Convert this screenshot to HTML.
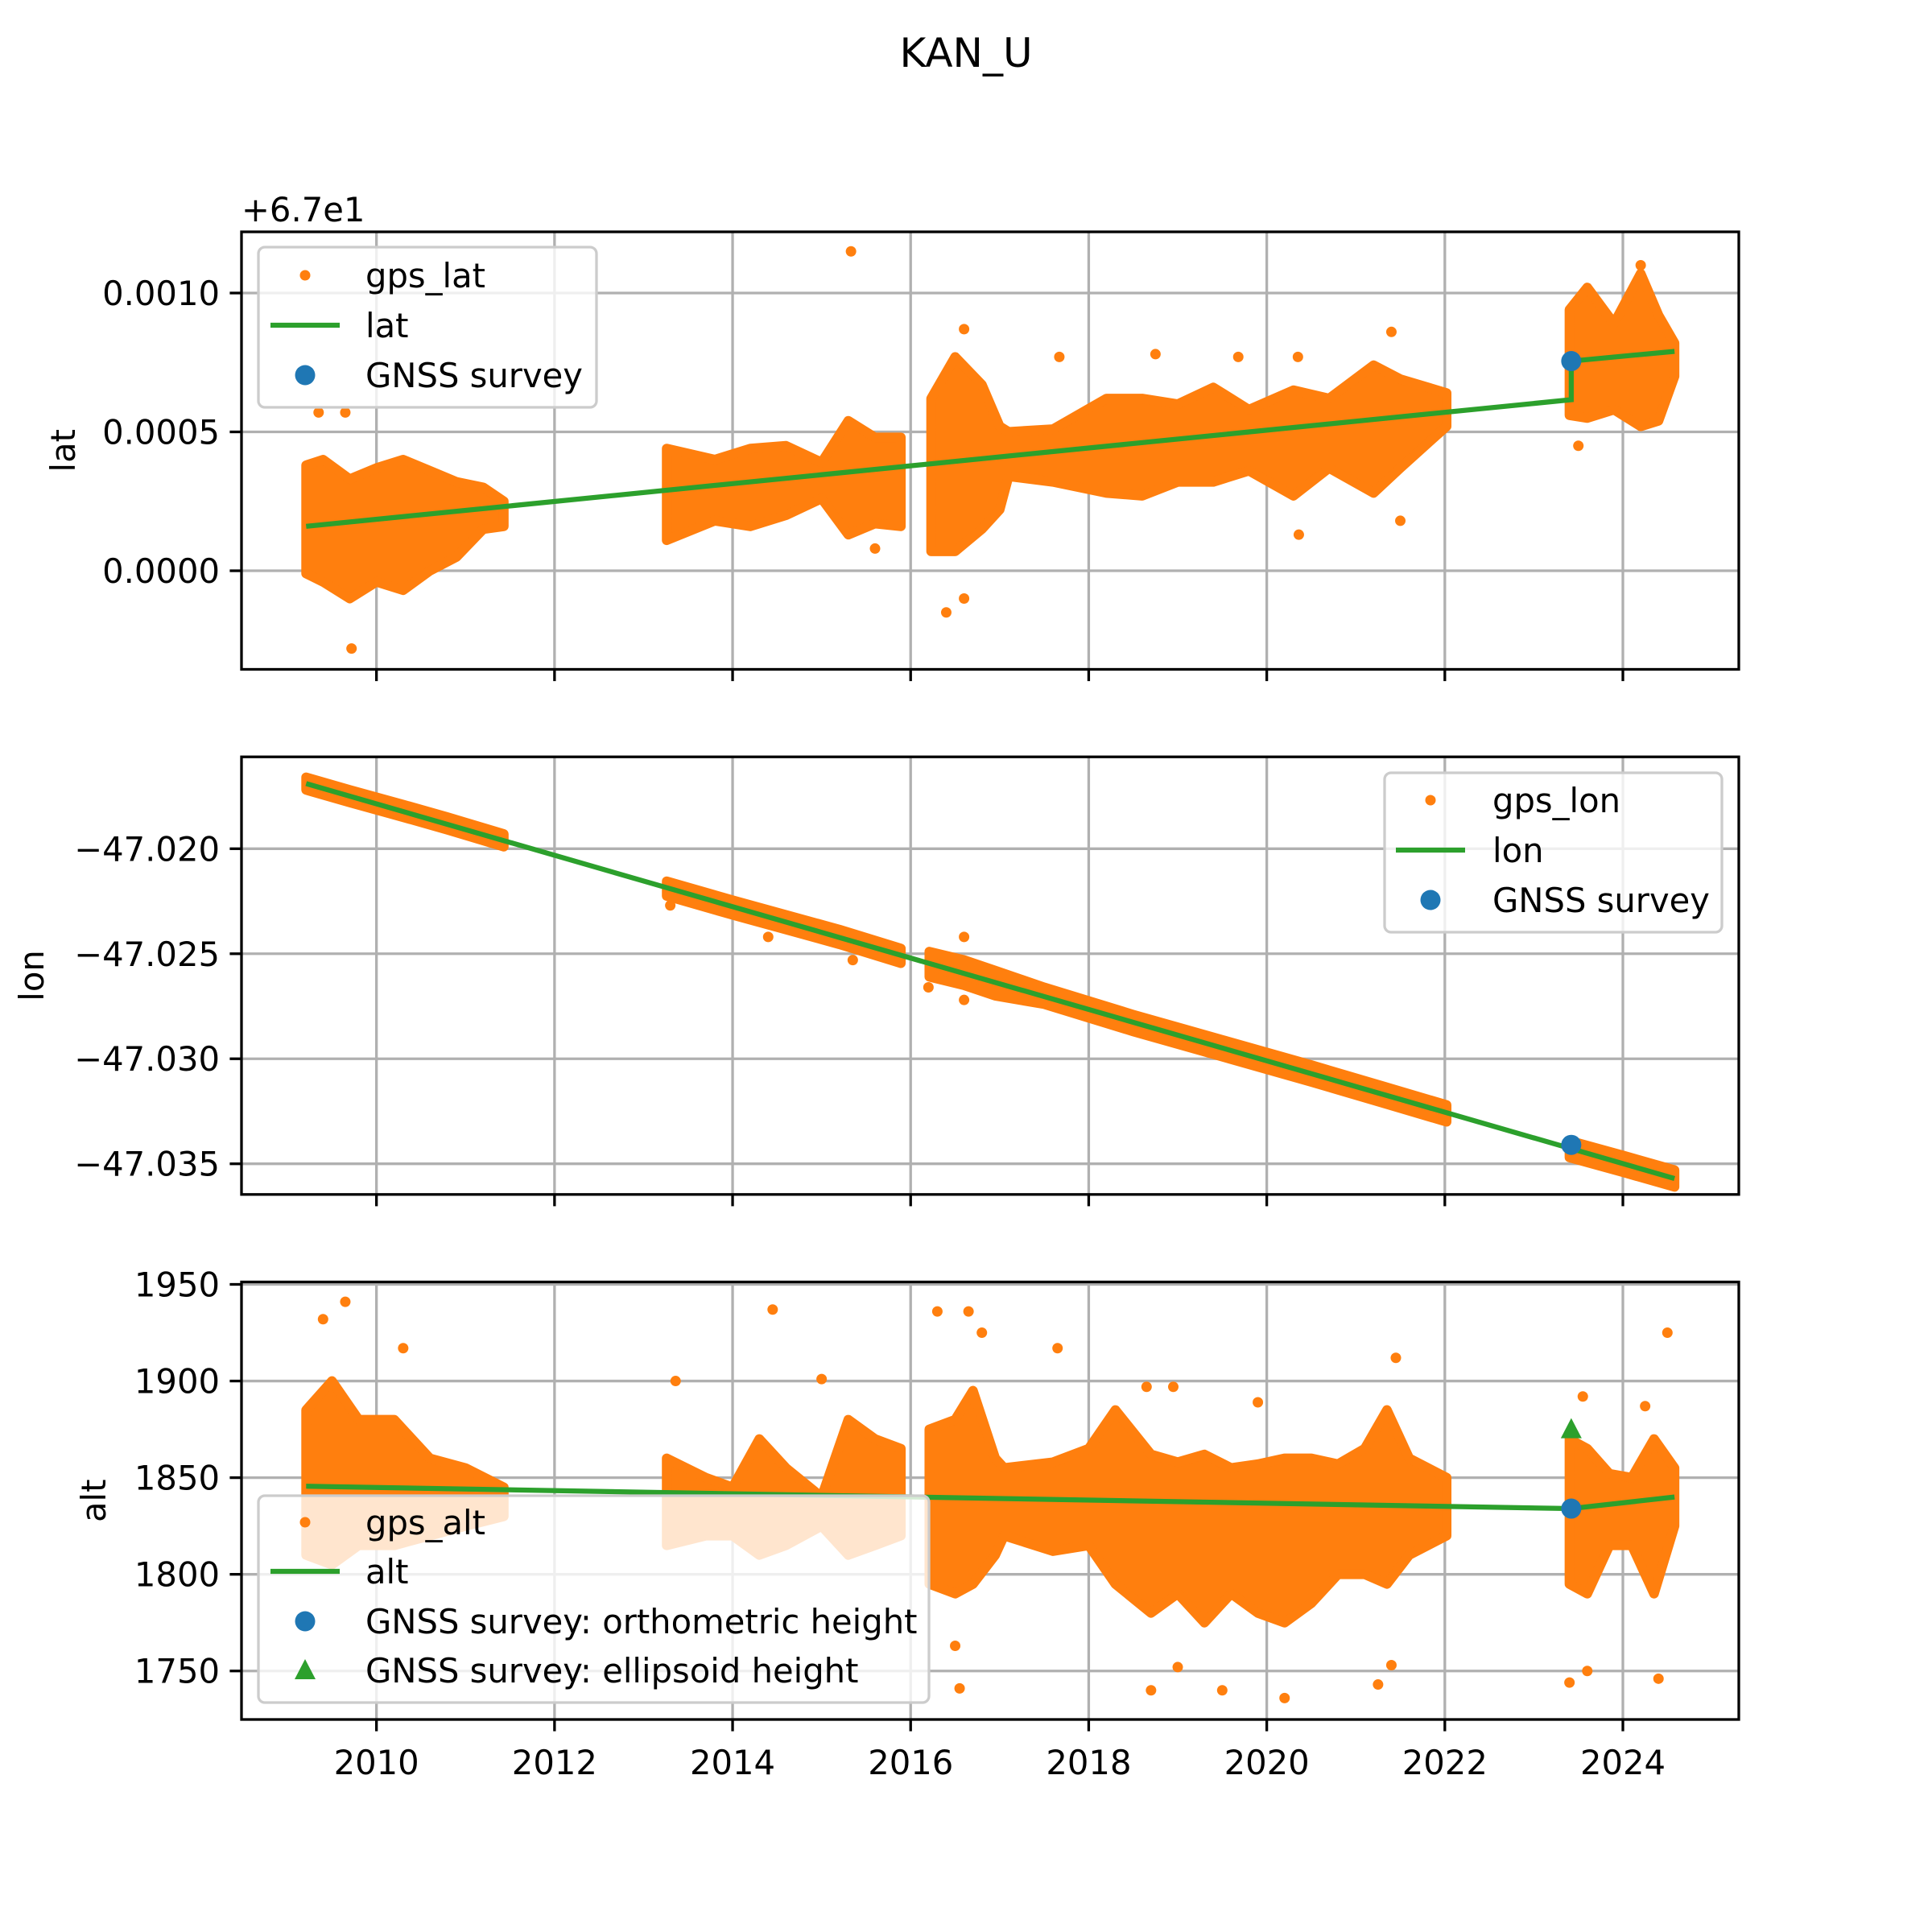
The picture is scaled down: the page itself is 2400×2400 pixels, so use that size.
<!DOCTYPE html>
<html><head><meta charset="utf-8"><style>
html,body{margin:0;padding:0;background:#fff;}
svg{display:block;font-family:"DejaVu Sans","Liberation Sans",sans-serif;}
</style></head><body>
<svg id="fig" width="2400" height="2400" viewBox="0 0 2400 2400" xmlns="http://www.w3.org/2000/svg">
<rect width="2400" height="2400" fill="#fff"/>
<text x="1200" y="83" font-size="50" text-anchor="middle">KAN_U</text>
</svg>
<script>
// ---- data ----
const xTicks = [2010, 2012, 2014, 2016, 2018, 2020, 2022, 2024];
const latTicks = [0.0000, 0.0005, 0.0010];
const latTickLabels = ["0.0000", "0.0005", "0.0010"];
const lonTicks = [-47.020, -47.025, -47.030, -47.035];
const lonTickLabels = ["\u221247.020", "\u221247.025", "\u221247.030", "\u221247.035"];
const altTicks = [1750, 1800, 1850, 1900, 1950];
const altTickLabels = ["1750", "1800", "1850", "1900", "1950"];

// envelopes of dense gps clouds (null separates observation periods)
const latYears = [2009.21,2009.4,2009.7,2010.0,2010.3,2010.6,2010.9,2011.2,2011.43,null,
  2013.26,2013.8,2014.2,2014.6,2015.0,2015.3,2015.6,2015.89,null,
  2016.23,2016.5,2016.8,2017.0,2017.1,2017.6,2018.2,2018.6,2019.0,2019.4,2019.8,2020.3,2020.7,2021.2,2021.5,2022.02,null,
  2023.4,2023.6,2023.9,2024.2,2024.4,2024.58];
const latLow  = [-0.00001,-0.00004,-0.00010,-0.00004,-0.00007,0.0,0.00005,0.00015,0.00016,null,
  0.00011,0.00018,0.00016,0.0002,0.00026,0.00013,0.00017,0.00016,null,
  0.00007,0.00007,0.00015,0.00022,0.00034,0.00032,0.00028,0.00027,0.00032,0.00032,0.00036,0.00027,0.00037,0.00028,0.00037,0.00052,null,
  0.00056,0.00055,0.00058,0.00052,0.00054,0.0007];
const latHigh = [0.00038,0.00040,0.00033,0.00037,0.00040,0.00036,0.00032,0.00030,0.00025,null,
  0.00044,0.0004,0.00044,0.00045,0.00039,0.00054,0.00048,0.00048,null,
  0.00062,0.00077,0.00067,0.00052,0.0005,0.00051,0.00062,0.00062,0.0006,0.00066,0.00058,0.00065,0.00062,0.00074,0.00069,0.00064,null,
  0.00094,0.00102,0.00089,0.00107,0.00092,0.00082];
const latOutX = [2015.33,2009.72,2023.5,2016.6,2017.67,2018.75,2019.68,2020.35,2021.4,2016.4,2016.6,2020.36,2021.5,2015.6,2009.35,2009.65,2024.2];
const latOutY = [0.00115,-0.00028,0.00045,0.00087,0.00077,0.00078,0.00077,0.00077,0.00086,-0.00015,-0.0001,0.00013,0.00018,0.00008,0.00057,0.00057,0.0011];
const latTrendX = [2009.21,2023.42,2023.42,2024.58];
const latTrendY = [0.00016,0.000616,0.000755,0.00079];

const lonYears = [2009.21,2009.7,2010.3,2010.8,2011.43,null,2013.26,2014.0,2014.6,2015.2,2015.89,null,2016.21,2016.6,2016.95,2017.5,2018.5,2019.5,2020.5,2021.3,2022.02,null,2023.4,2024.0,2024.58];
const lonLow  = [-47.0172,-47.0178,-47.0185,-47.0191,-47.0199,null,-47.02225,-47.02315,-47.02385,-47.02455,-47.02545,null,-47.0261,-47.0265,-47.0270,-47.0274,-47.0287,-47.0299,-47.0311,-47.0321,-47.0330,null,-47.0347,-47.0354,-47.0361];
const lonHigh = [-47.0166,-47.0172,-47.0179,-47.0185,-47.0193,null,-47.02155,-47.02245,-47.02315,-47.02385,-47.02475,null,-47.0249,-47.0253,-47.0258,-47.0266,-47.0279,-47.0291,-47.0303,-47.0313,-47.0322,null,-47.0339,-47.0346,-47.0353];
const lonOutX = [2013.3,2014.4,2015.35,2016.6,2016.6,2016.2];
const lonOutY = [-47.0227,-47.0242,-47.0253,-47.0242,-47.0272,-47.0266];
const lonTrendX = [2009.21,2024.58];
const lonTrendY = [-47.0169,-47.0357];

const altYears = [2009.21,2009.5,2009.8,2010.2,2010.6,2011.0,2011.43,null,
  2013.26,2013.7,2014.0,2014.3,2014.6,2015.0,2015.3,2015.6,2015.89,null,
  2016.21,2016.5,2016.7,2016.95,2017.05,2017.6,2018.0,2018.3,2018.7,2019.0,2019.3,2019.6,2019.9,2020.2,2020.5,2020.8,2021.1,2021.35,2021.6,2022.02,null,
  2023.4,2023.6,2023.85,2024.1,2024.35,2024.58];
const altLow  = [1810,1805,1815,1815,1820,1825,1830,null,
  1815,1820,1820,1810,1815,1825,1810,1815,1820,null,
  1795,1790,1795,1810,1820,1812,1815,1795,1780,1790,1775,1790,1780,1775,1785,1800,1800,1795,1810,1820,null,
  1795,1790,1815,1815,1790,1825];
const altHigh = [1885,1900,1880,1880,1860,1855,1845,null,
  1860,1850,1845,1870,1855,1840,1880,1870,1865,null,
  1875,1880,1895,1860,1855,1858,1865,1885,1862,1858,1862,1855,1857,1860,1860,1857,1865,1885,1860,1850,null,
  1870,1865,1852,1850,1870,1855];
const altOutX = [2009.65,2009.4,2014.45,2016.3,2016.65,2016.8,2017.65,2024.5,2010.3,2015.0,2013.36,2021.45,2020.2,2018.7,2016.55,2019.5,2021.25,2023.4,2024.4,2019.0,2023.6,2021.4,2016.5,2023.55,2024.25,2018.65,2018.95,2019.9];
const altOutY = [1941,1932,1937,1936,1936,1925,1917,1925,1917,1901,1900,1912,1736,1740,1741,1740,1743,1744,1746,1752,1750,1753,1763,1892,1887,1897,1897,1889];
const altTrendX = [2009.21,2023.42,2024.58];
const altTrendY = [1845.6,1834,1840];

const surveyX = [2023.42];
const latSurvey = [0.000755];
const lonSurvey = [-47.0341];
const altSurveyOrtho = [1834];
const altSurveyEllip = [1875];

// ---- layout ----
const NS = "http://www.w3.org/2000/svg";
const svg = document.getElementById('fig');
const L = 300, R = 2160;
const X0 = 2008.484, X1 = 2025.302;
function xs(v){ return L + (v - X0) / (X1 - X0) * (R - L); }
const panels = [
  {name:'lat', top:288, bot:831.5, y0:-0.000355, y1:0.0012203, ticks:latTicks, labels:latTickLabels, label:'lat', lx:93},
  {name:'lon', top:940.2, bot:1483.8, y0:-47.03646, y1:-47.015627, ticks:lonTicks, labels:lonTickLabels, label:'lon', lx:54},
  {name:'alt', top:1592.5, bot:2136, y0:1724.9, y1:1951.25, ticks:altTicks, labels:altTickLabels, label:'alt', lx:131}
];
function mk(tag, attrs, parent){
  const e = document.createElementNS(NS, tag);
  for (const k in attrs) e.setAttribute(k, attrs[k]);
  (parent || svg).appendChild(e);
  return e;
}
const ORANGE = '#ff7f0e', GREEN = '#2ca02c', BLUE = '#1f77b4';

function drawEnvelope(g, p, years, low, high, ys){
  let seg = [];
  const segs = [];
  for (let i = 0; i <= years.length; i++){
    if (i === years.length || years[i] === null){ if (seg.length) segs.push(seg); seg = []; }
    else seg.push(i);
  }
  segs.forEach(s => {
    let pts = s.map(i => xs(years[i]) + ',' + ys(high[i]));
    pts = pts.concat(s.slice().reverse().map(i => xs(years[i]) + ',' + ys(low[i])));
    const poly = mk('polygon', {points: pts.join(' '), fill: ORANGE, stroke: ORANGE, 'stroke-width': 12, 'stroke-linejoin': 'round'}, g);
    
    
  });
}

panels.forEach((p, pi) => {
  const ys = v => p.bot - (v - p.y0) / (p.y1 - p.y0) * (p.bot - p.top);
  const g = mk('g', {});
  
  
  const cid = 'clip' + pi;
  const cp = mk('clipPath', {id: cid}, g);
  mk('rect', {x: L, y: p.top, width: R - L, height: p.bot - p.top}, cp);
  xTicks.forEach(t => {
    const gl = mk('line', {x1: xs(t), x2: xs(t), y1: p.top, y2: p.bot, stroke: '#b0b0b0', 'stroke-width': 3.3}, g);
    
    
    const tk = mk('line', {x1: xs(t), x2: xs(t), y1: p.bot, y2: p.bot + 14.6, stroke: '#000', 'stroke-width': 3.3}, g);
    
    
    if (pi === 2){
      const tl = mk('text', {x: xs(t), y: p.bot + 68, 'font-size': 41.7, 'text-anchor': 'middle'}, g);
      tl.textContent = t;
      
      
    }
  });
  p.ticks.forEach((t, i) => {
    const gl = mk('line', {x1: L, x2: R, y1: ys(t), y2: ys(t), stroke: '#b0b0b0', 'stroke-width': 3.3}, g);
    
    
    const tk = mk('line', {x1: L - 14.6, x2: L, y1: ys(t), y2: ys(t), stroke: '#000', 'stroke-width': 3.3}, g);
    
    
    const tl = mk('text', {x: L - 27, y: ys(t) + 15, 'font-size': 41.7, 'text-anchor': 'end'}, g);
    tl.textContent = p.labels[i];
    
    
  });
  const yl = mk('text', {x: p.lx, y: (p.top + p.bot) / 2, 'font-size': 41.7, 'text-anchor': 'middle', transform: `rotate(-90 ${p.lx} ${(p.top + p.bot) / 2})`}, g);
  yl.textContent = p.label;
  
  

  const dg = mk('g', {'clip-path': `url(#${cid})`}, g);
  let years, low, high, ox, oy, tx, ty;
  if (p.name === 'lat'){ years = latYears; low = latLow; high = latHigh; ox = latOutX; oy = latOutY; tx = latTrendX; ty = latTrendY; }
  else if (p.name === 'lon'){ years = lonYears; low = lonLow; high = lonHigh; ox = lonOutX; oy = lonOutY; tx = lonTrendX; ty = lonTrendY; }
  else { years = altYears; low = altLow; high = altHigh; ox = altOutX; oy = altOutY; tx = altTrendX; ty = altTrendY; }
  drawEnvelope(dg, p, years, low, high, ys);
  ox.forEach((v, i) => {
    const c = mk('circle', {cx: xs(v), cy: ys(oy[i]), r: 6.5, fill: ORANGE}, dg);
    
    
  });
  const tl = mk('polyline', {points: tx.map((v, i) => xs(v) + ',' + ys(ty[i])).join(' '), fill: 'none', stroke: GREEN, 'stroke-width': 6.25}, dg);
  
  
  const sv = p.name === 'lat' ? latSurvey : p.name === 'lon' ? lonSurvey : altSurveyOrtho;
  surveyX.forEach((v, i) => {
    const c = mk('circle', {cx: xs(v), cy: ys(sv[i]), r: 12.5, fill: BLUE}, dg);
    
    
    if (p.name === 'alt'){
      const X = xs(v), Y = ys(altSurveyEllip[i]);
      const tr = mk('polygon', {points: `${X},${Y - 14} ${X - 13},${Y + 11} ${X + 13},${Y + 11}`, fill: GREEN}, dg);
      
      
    }
  });
  const fr = mk('rect', {x: L, y: p.top, width: R - L, height: p.bot - p.top, fill: 'none', stroke: '#000', 'stroke-width': 3.3}, g);
  
  
});

const off = mk('text', {x: 300, y: 275, 'font-size': 41.7});
off.textContent = '+6.7e1';



function legend(name, x, y, w, h, rows, mx, tx, rowY){
  const g = mk('g', {});
  
  
  mk('rect', {x: x, y: y, width: w, height: h, rx: 8, fill: 'rgba(255,255,255,0.8)', stroke: '#cccccc', 'stroke-width': 3.3}, g);
  rows.forEach((r, i) => {
    const yy = rowY[i];
    if (r.k === 'dot') mk('circle', {cx: mx, cy: yy, r: 6.5, fill: ORANGE}, g);
    else if (r.k === 'line') mk('line', {x1: mx - 43, x2: mx + 43, y1: yy, y2: yy, stroke: GREEN, 'stroke-width': 6.25}, g);
    else if (r.k === 'circ') mk('circle', {cx: mx, cy: yy, r: 12.5, fill: BLUE}, g);
    else mk('polygon', {points: `${mx},${yy - 14} ${mx - 13},${yy + 11} ${mx + 13},${yy + 11}`, fill: GREEN}, g);
    const t = mk('text', {x: tx, y: yy + 15, 'font-size': 41.7}, g);
    t.textContent = r.t;
    
    
  });
}
legend('lat-legend', 321, 307, 420, 199, [{k:'dot',t:'gps_lat'},{k:'line',t:'lat'},{k:'circ',t:'GNSS survey'}], 379, 454, [342, 404, 466]);
legend('lon-legend', 1720, 960, 419, 198, [{k:'dot',t:'gps_lon'},{k:'line',t:'lon'},{k:'circ',t:'GNSS survey'}], 1777, 1854, [994, 1056, 1118]);
legend('alt-legend', 321, 1858, 833, 257, [{k:'dot',t:'gps_alt'},{k:'line',t:'alt'},{k:'circ',t:'GNSS survey: orthometric height'},{k:'tri',t:'GNSS survey: ellipsoid height'}], 379, 454, [1891, 1952, 2014, 2075]);
</script>
</body></html>
